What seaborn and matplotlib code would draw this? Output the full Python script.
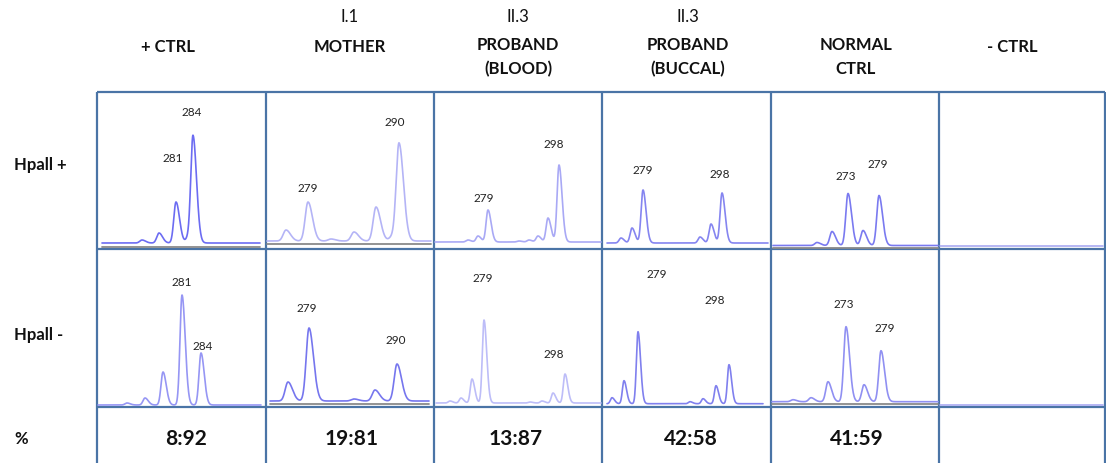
import numpy as np
import matplotlib
matplotlib.use("Agg")
import matplotlib.pyplot as plt
import seaborn as sns

# ---------------------------------------------------
# Data
# ---------------------------------------------------
head_l1 = ["", "I.1", "II.3", "II.3", "", ""]
head_l2 = ["+ CTRL", "MOTHER", "PROBAND", "PROBAND", "NORMAL", "- CTRL"]
head_l3 = ["", "", "(BLOOD)", "(BUCCAL)", "CTRL", ""]
row_names = ["Hpall +", "Hpall -", "%"]
ratios = ["8:92", "19:81", "13:87", "42:58", "41:59", ""]

# peaks: position in the panel (px from left) and height above baseline (px)
top_pos = [[45, 62, 79, 91, 96],
           [20, 42, 65, 88, 110, 126, 133],
           [34, 44, 54, 85, 95, 104, 114, 125],
           [19, 30, 41, 98, 109, 120],
           [46, 61, 77, 92, 108],
           []]
top_hgt = [[3, 10, 41, 5, 106],
           [11, 39, 2, 9, 34, 4, 97],
           [2, 6, 32, 1, 2, 6, 24, 77],
           [5, 15, 53, 6, 19, 50],
           [3, 14, 52, 15, 50],
           []]
bot_pos = [[30, 48, 66, 85, 104],
           [22, 43, 88, 109, 131],
           [16, 27, 38, 50, 96, 108, 119, 131],
           [10, 22, 36, 88, 101, 114, 127],
           [22, 40, 57, 75, 93, 110],
           []]
bot_hgt = [[2, 7, 33, 110, 52],
           [19, 73, 2, 11, 37],
           [2, 5, 24, 83, 1, 2, 10, 29],
           [6, 23, 72, 2, 5, 18, 39],
           [2, 4, 20, 75, 17, 51],
           []]
top_lab = [["281", "284"], ["279", "290"], ["279", "298"], ["279", "298"], ["273", "279"], []]
bot_lab = [["281", "284"], ["279", "290"], ["279", "298"], ["279", "298"], ["273", "279"], []]

# ---------------------------------------------------
# Layout / styling (pixels)
# ---------------------------------------------------
W, H = 1106, 463
col_x = [97, 266, 434, 602, 771, 939, 1105]
row_y = [92, 249, 407, 463]
border = "#4a74a6"

top_style = [  # trace start, end, baseline, gray axis, width, colour
    (5, 163, 6, 2, 2.2, "#6c6cf2"),
    (1, 165, 8, 5, 2.8, "#b4b4f6"),
    (1, 167, 7, None, 1.9, "#a9a9f5"),
    (5, 166, 6, None, 1.9, "#8585f0"),
    (2, 167, 3.5, 1, 2.2, "#7a7af0"),
    (1, 164, 3, None, 2.0, "#aaaaf2"),
]
bot_style = [
    (1, 164, 2, None, 2.0, "#9696f4"),
    (4, 163, 6, 3, 2.8, "#7676ee"),
    (2, 167, 4, None, 1.7, "#bdbdf8"),
    (5, 161, 3.3, None, 1.6, "#8080ee"),
    (1, 167, 5.3, 3, 2.2, "#9090f2"),
    (1, 164, 2, None, 2.0, "#aaaaf2"),
]
top_lab_xy = [[(76, 90), (95, 136)], [(42, 60), (129, 126)], [(50, 50), (120, 104)],
              [(41, 78), (118, 75)], [(75, 73), (107, 84)], []]
bot_lab_xy = [[(85, 125), (106, 61)], [(41, 98), (130, 67)], [(49, 129), (120, 52)],
              [(55, 132), (113, 107)], [(73, 102), (114, 79)], []]
head_x = [168, 350, 518, 688, 856, 1012]
ratio_x = [186, 352, 516, 691, 857, 1022]

sns.set_style("white")
plt.rcParams['font.family'] = ['Lato', 'DejaVu Sans']

fig = plt.figure(figsize=(W / 100, H / 100), dpi=100)
bg = fig.add_axes([0, 0, 1, 1])
bg.set_xlim(0, W)
bg.set_ylim(H, 0)
bg.axis("off")

# grid
for x in col_x:
    bg.plot([x, x], [row_y[0], row_y[-1]], color=border, lw=1.6, solid_capstyle="butt")
for y in row_y[:-1]:
    bg.plot([col_x[0], col_x[-1]], [y, y], color=border, lw=1.6, solid_capstyle="butt")

# headers
for i in range(6):
    bg.text(head_x[i], 17, head_l1[i], ha="center", va="center", fontsize=12, color="#111111")
    y2 = 45 if head_l3[i] else 47
    bg.text(head_x[i], y2, head_l2[i], ha="center", va="center", fontsize=12,
            fontweight="bold", color="#111111")
    bg.text(head_x[i], 69, head_l3[i], ha="center", va="center", fontsize=12,
            fontweight="bold", color="#111111")
    bg.text(ratio_x[i], 439, ratios[i], ha="center", va="center", fontsize=15,
            fontweight="bold", color="#111111")

for name, y in zip(row_names, [165, 335, 439]):
    bg.text(14, y, name, ha="left", va="center", fontsize=12, fontweight="bold", color="#111111")


def trace(pos, hgt, start, end, base, width):
    xs = np.linspace(start, end, 800)
    ys = np.full_like(xs, base)
    for p, h in zip(pos, hgt):
        s = np.where(xs < p, width, width * 1.6)
        ys += h * np.exp(-0.5 * ((xs - p) / s) ** 2)
    return xs, ys


for r, (pos_all, hgt_all, styles, labs, labxy) in enumerate(
        [(top_pos, top_hgt, top_style, top_lab, top_lab_xy),
         (bot_pos, bot_hgt, bot_style, bot_lab, bot_lab_xy)]):
    y0, y1 = row_y[r], row_y[r + 1]
    for c in range(6):
        x0, x1 = col_x[c], col_x[c + 1]
        ax = fig.add_axes([x0 / W, 1 - y1 / H, (x1 - x0) / W, (y1 - y0) / H])
        ax.set_xlim(0, x1 - x0)
        ax.set_ylim(0, y1 - y0)
        ax.axis("off")
        ax.patch.set_alpha(0)
        start, end, base, gray, width, color = styles[c]
        if gray is not None:
            ax.plot([start, end], [gray, gray], color="#8a8a8a", lw=1.3)
        xs, ys = trace(pos_all[c], hgt_all[c], start, end, base, width)
        sns.lineplot(x=xs, y=ys, ax=ax, color=color, lw=1.2, sort=False)
        for t, (lx, ly) in zip(labs[c], labxy[c]):
            ax.text(lx, ly, t, ha="center", va="center", fontsize=8.5, color="#222222")

fig.savefig("out.png", dpi=100)
